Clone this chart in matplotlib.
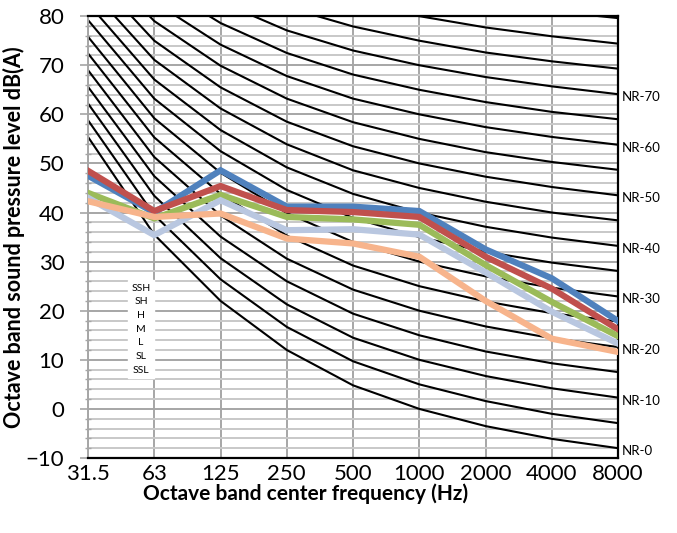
import matplotlib
matplotlib.use("Agg")
import matplotlib.pyplot as plt
from matplotlib.lines import Line2D
from matplotlib.offsetbox import VPacker

plt.rcParams['font.family'] = ['Lato', 'DejaVu Sans']

freqs = ["31.5", "63", "125", "250", "500", "1000", "2000", "4000", "8000"]

# NR curves (dB per octave band)
nr_levels = [0, 5, 10, 15, 20, 25, 30, 35, 40, 45, 50, 55, 60, 65, 70, 75, 80, 85]
nr_curves = [
    [55.4, 35.5, 22.0, 12.0, 4.8, 0.0, -3.5, -6.1, -8.0],
    [58.8, 39.5, 26.4, 16.7, 9.7, 5.0, 1.6, -1.0, -2.9],
    [62.2, 43.4, 30.7, 21.3, 14.5, 10.0, 6.7, 4.2, 2.3],
    [65.6, 47.4, 35.1, 26.0, 19.4, 15.0, 11.7, 9.3, 7.5],
    [69.0, 51.3, 39.4, 30.6, 24.3, 20.0, 16.8, 14.4, 12.6],
    [72.4, 55.3, 43.8, 35.3, 29.2, 25.0, 21.9, 19.5, 17.8],
    [75.8, 59.2, 48.1, 39.9, 34.0, 30.0, 27.0, 24.7, 22.9],
    [79.2, 63.2, 52.5, 44.6, 38.9, 35.0, 32.0, 29.8, 28.1],
    [82.6, 67.1, 56.8, 49.2, 43.8, 40.0, 37.1, 34.9, 33.2],
    [86.0, 71.1, 61.2, 53.9, 48.6, 45.0, 42.2, 40.0, 38.4],
    [89.5, 75.0, 65.5, 58.5, 53.5, 50.0, 47.3, 45.2, 43.5],
    [92.9, 79.0, 69.9, 63.2, 58.4, 55.0, 52.3, 50.3, 48.7],
    [96.3, 82.9, 74.2, 67.8, 63.2, 60.0, 57.4, 55.4, 53.8],
    [99.7, 86.9, 78.6, 72.5, 68.1, 65.0, 62.5, 60.5, 59.0],
    [103.1, 90.8, 82.9, 77.1, 73.0, 70.0, 67.6, 65.7, 64.1],
    [106.5, 94.8, 87.3, 81.8, 77.9, 75.0, 72.6, 70.8, 69.3],
    [109.9, 98.7, 91.6, 86.4, 82.7, 80.0, 77.7, 75.9, 74.4],
    [113.3, 102.7, 96.0, 91.1, 87.6, 85.0, 82.8, 81.0, 79.6],
]
nr_labeled = [0, 10, 20, 30, 40, 50, 60, 70]

# measured series
series_names = ["SSH", "SH", "H", "M", "L", "SL", "SSL"]
ssh = [47.5, 40.0, 48.6, 41.2, 41.2, 40.3, 32.5, 26.6, 17.9]
sh = [48.5, 40.3, 45.4, 40.5, 40.1, 39.1, 31.0, 24.5, 16.2]
h = [44.0, 38.8, 43.6, 39.1, 38.6, 37.5, 29.3, 21.8, 14.8]
m = [43.0, 35.4, 42.5, 36.4, 36.6, 35.5, 27.8, 19.8, 13.3]
l = [42.3, 39.1, 39.8, 34.7, 33.7, 31.0, 22.0, 14.3, 11.6]
sl = []
ssl = []
series_values = [ssh, sh, h, m, l, sl, ssl]
series_colors = ["#4F81BD", "#C0504D", "#9BBB59", "#B9C7E0", "#F7B48C", "#8064A2", "#4BACC6"]

fig = plt.figure(figsize=(6.77, 5.33), dpi=100)
ax = fig.add_axes([0.130, 0.1407, 0.783, 0.829])

x = list(range(len(freqs)))

ax.set_ylim(-10, 80)
ax.set_xlim(0, len(freqs) - 1)
ax.set_yticks(range(-10, 81, 10))
ax.set_yticks(range(-10, 81, 2), minor=True)
ax.grid(which='minor', axis='y', color='#C8C8C8', lw=1.4, zorder=0)
ax.grid(which='major', axis='y', color='#A6A6A6', lw=1.4, zorder=0)
ax.set_xticks(x)
ax.set_xticklabels(freqs)
ax.grid(which='major', axis='x', color='#A6A6A6', lw=1.4, zorder=0)
ax.set_axisbelow(True)

for lvl, vals in zip(nr_levels, nr_curves):
    ax.plot(x, vals, color='black', lw=1.5, zorder=2)
    if lvl in nr_labeled:
        ax.text(x[-1] + 0.05, vals[-1] - 0.6, f"NR-{lvl}", fontsize=9.5, va='center', ha='left',
                clip_on=False)

for name, vals, c in zip(series_names, series_values, series_colors):
    if len(vals):
        ax.plot(x, vals, color=c, lw=4.5, zorder=3, solid_joinstyle='miter')

handles = [Line2D([], [], linestyle='none') for _ in series_names]
leg = ax.legend(handles, series_names, loc='center', bbox_to_anchor=(0.10, 0.292),
                fontsize=7.5, handlelength=0, handletextpad=0, labelspacing=0.42,
                borderpad=0.35, frameon=True, fancybox=False, framealpha=1,
                edgecolor='white', facecolor='white')
leg.set_zorder(5)
for vp in leg.findobj(VPacker):
    vp.align = 'center'

for side in ['top', 'right', 'bottom']:
    ax.spines[side].set_color('black')
    ax.spines[side].set_linewidth(1.6)
ax.spines['left'].set_color('#A6A6A6')
ax.spines['left'].set_linewidth(1.4)

ax.tick_params(axis='y', which='major', length=6, width=1.2, color='#A6A6A6',
               labelsize=16, pad=11)
ax.tick_params(axis='y', which='minor', length=4, width=1.0, color='#A6A6A6', direction='inout')
ax.tick_params(axis='x', length=0, labelsize=16, pad=4)

ax.set_xlabel("Octave band center frequency (Hz)", fontsize=15, fontweight='bold')
ax.xaxis.set_label_coords(0.411, -0.058)
ax.set_ylabel("Octave band sound pressure level dB(A)", fontsize=15.5, fontweight='bold')
ax.yaxis.set_label_coords(-0.119, 0.5)

fig.savefig("out.png", dpi=100)
